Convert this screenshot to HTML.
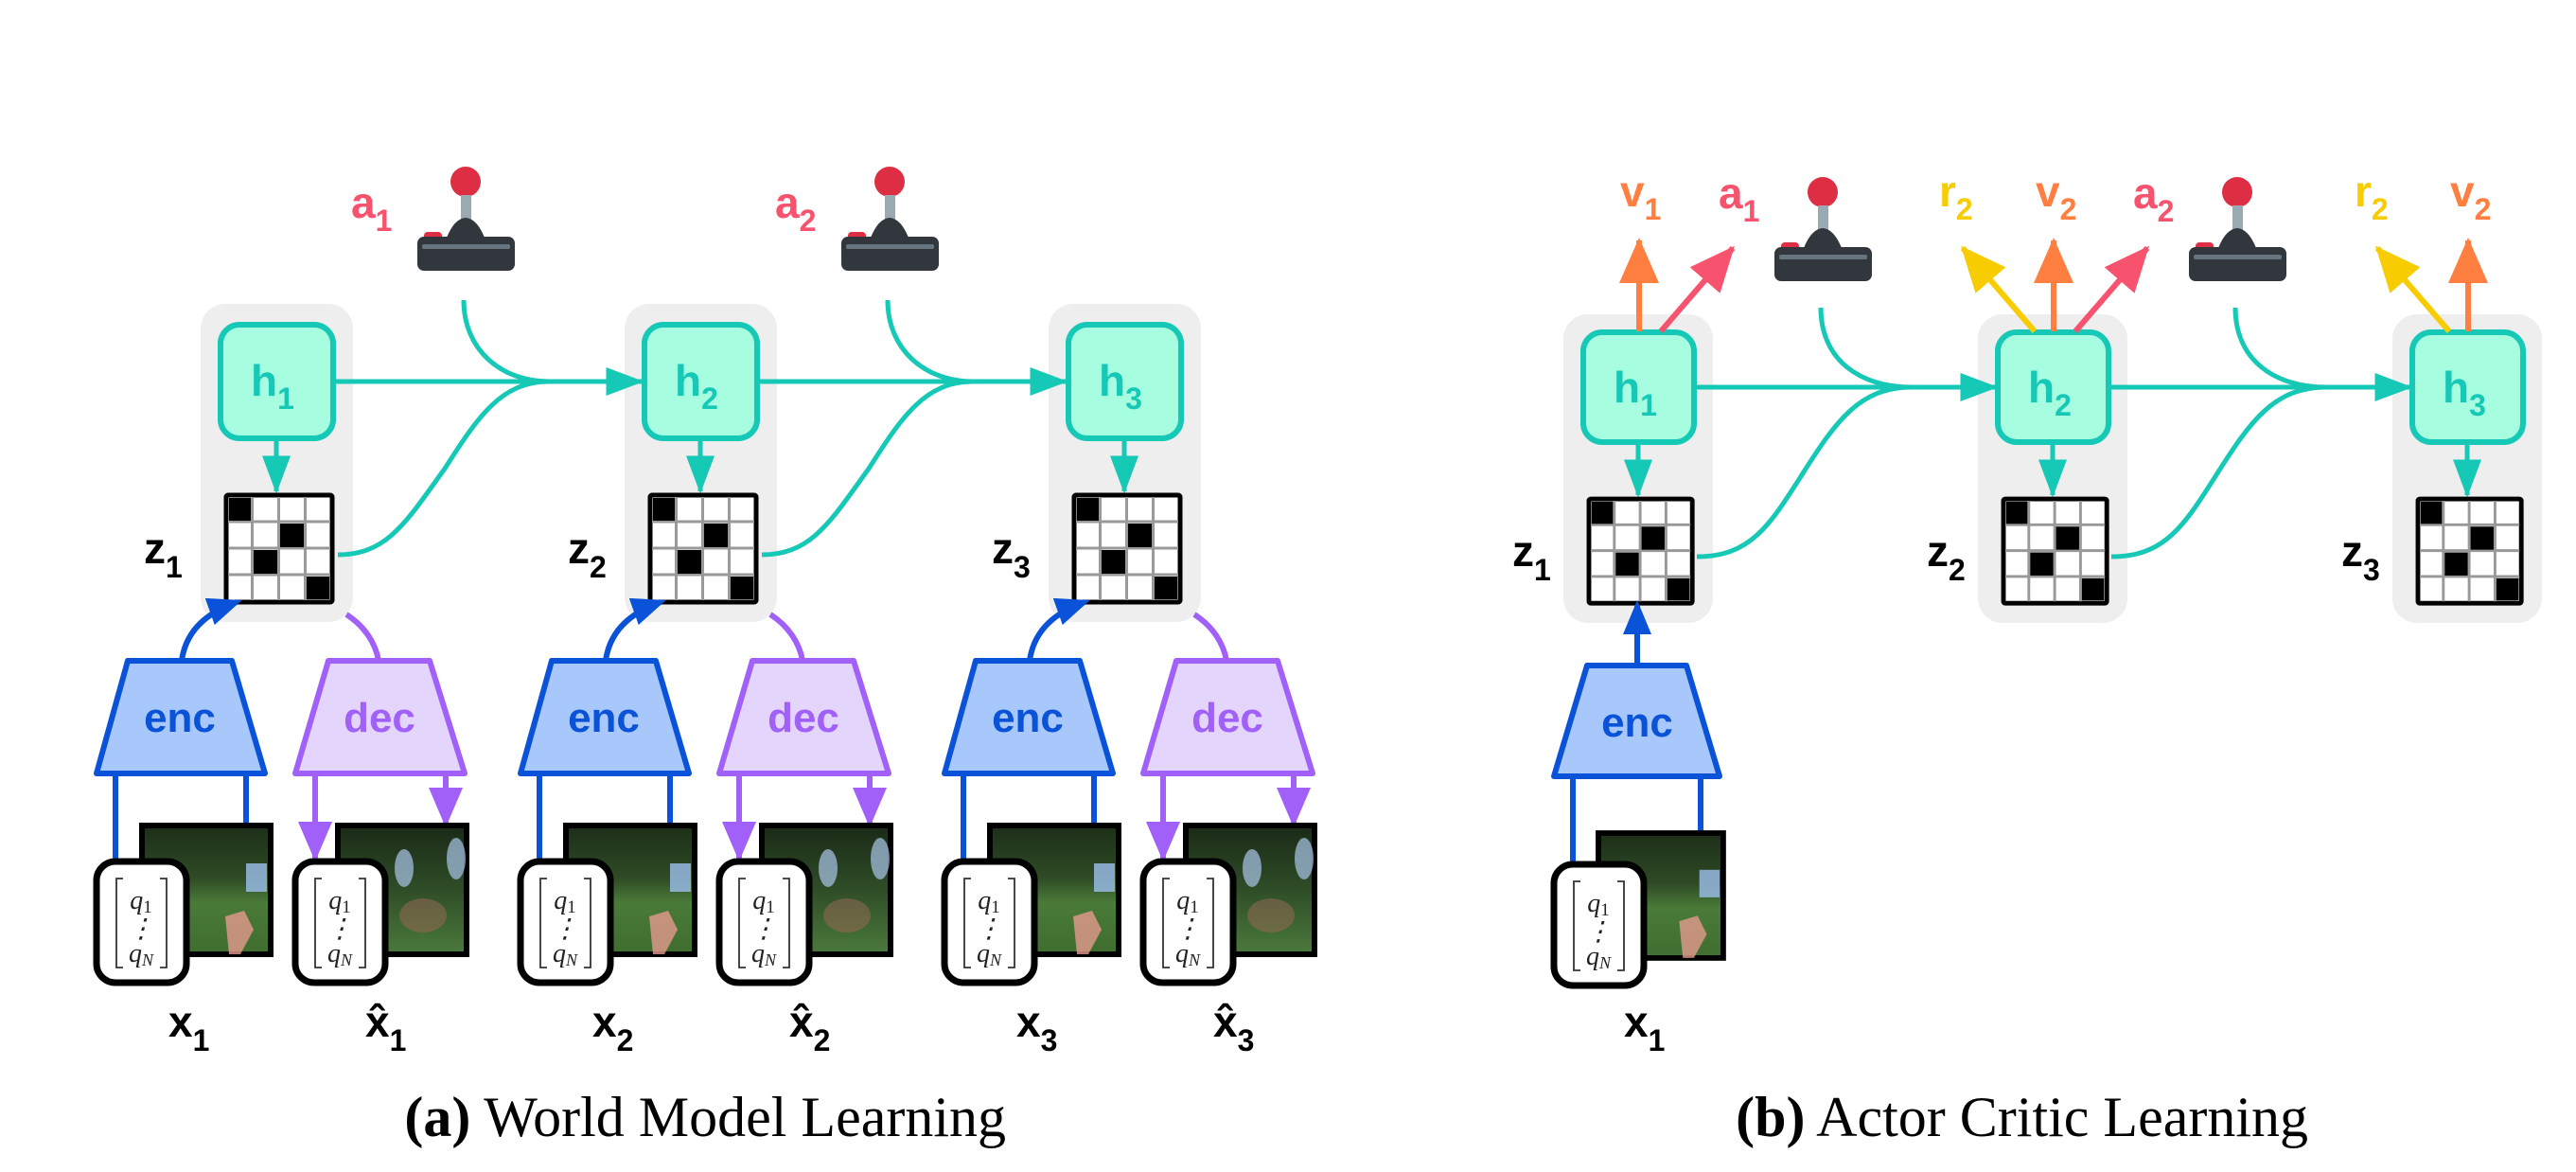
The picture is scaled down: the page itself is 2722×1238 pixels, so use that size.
<!DOCTYPE html>
<html><head><meta charset="utf-8"><style>
html,body{margin:0;padding:0;background:#fff}
svg{display:block}
.lb{font-family:"Liberation Sans",sans-serif;font-weight:bold}
.cap{font-family:"Liberation Serif",serif;font-size:60px}
.q{font-family:"Liberation Serif",serif;font-style:italic;font-size:28px;fill:#222}
</style></head><body>
<svg width="2722" height="1238" viewBox="0 0 2722 1238" xmlns="http://www.w3.org/2000/svg" xmlns:xlink="http://www.w3.org/1999/xlink">
<defs>
<marker id="mt" markerWidth="8" markerHeight="6" refX="7.5" refY="3" orient="auto" markerUnits="strokeWidth"><path d="M0,0 L8,3 L0,6 z" fill="#16c8b6"/></marker>
<marker id="mb" markerWidth="6" markerHeight="5" refX="5" refY="2.5" orient="auto" markerUnits="strokeWidth"><path d="M0,0 L6,2.5 L0,5 z" fill="#0a52d8"/></marker>
<marker id="mp" markerWidth="7" markerHeight="6" refX="6.5" refY="3" orient="auto" markerUnits="strokeWidth"><path d="M0,0 L7,3 L0,6 z" fill="#a160f8"/></marker>
<marker id="mo" markerWidth="8" markerHeight="7" refX="7.5" refY="3.5" orient="auto" markerUnits="strokeWidth"><path d="M0,0 L8,3.5 L0,7 z" fill="#ff7f41"/></marker>
<marker id="mr" markerWidth="8" markerHeight="7" refX="7.5" refY="3.5" orient="auto" markerUnits="strokeWidth"><path d="M0,0 L8,3.5 L0,7 z" fill="#f8536e"/></marker>
<marker id="my" markerWidth="8" markerHeight="7" refX="7.5" refY="3.5" orient="auto" markerUnits="strokeWidth"><path d="M0,0 L8,3.5 L0,7 z" fill="#f7cc00"/></marker>
<linearGradient id="mc" x1="0" y1="0" x2="0" y2="1"><stop offset="0" stop-color="#1c2e18"/><stop offset="0.4" stop-color="#2e4a25"/><stop offset="0.6" stop-color="#4a7a38"/><stop offset="1" stop-color="#3f6e30"/></linearGradient>
<linearGradient id="mc2" x1="0" y1="0" x2="0" y2="1"><stop offset="0" stop-color="#1a2a16"/><stop offset="0.5" stop-color="#2f4d27"/><stop offset="1" stop-color="#4b7a3c"/></linearGradient>

<g id="joy">
<circle cx="0" cy="17" r="16" fill="#dd2e44"/>
<rect x="-5" y="31" width="11" height="26" fill="#99aab5"/>
<path d="M-20,76 Q-12,56 0,55 Q12,56 20,76 z" fill="#31373d"/>
<rect x="-44" y="70" width="19" height="10" rx="4" fill="#dd2e44"/>
<rect x="-51" y="75" width="103" height="36" rx="7" fill="#31373d"/>
<rect x="-46" y="83" width="93" height="5" rx="2" fill="#66757f"/>
</g>

<g id="grid">
<rect x="0" y="0" width="112" height="113" fill="#fff" stroke="#000" stroke-width="5" rx="2"/>
<path d="M27.5,2V111M55.5,2V111M83.5,2V111M2,28H110M2,56H110M2,84H110" stroke="#999" stroke-width="3"/>
<rect x="3" y="3" width="23" height="24" fill="#000"/>
<rect x="57" y="30" width="25" height="25" fill="#000"/>
<rect x="29" y="58" width="25" height="25" fill="#000"/>
<rect x="85" y="86" width="24" height="24" fill="#000"/>
</g>

<g id="qbox">
<rect x="0" y="0" width="95" height="128" rx="20" fill="#fff" stroke="#000" stroke-width="7"/>
<path d="M28,18 h-7 v94 h7 M67,18 h7 v94 h-7" fill="none" stroke="#333" stroke-width="1.8"/>
<text x="47" y="50" text-anchor="middle" class="q">q<tspan font-size="19" font-style="normal" dy="4">1</tspan></text>
<text x="47" y="80" text-anchor="middle" class="q" font-style="normal">⋮</text>
<text x="47" y="106" text-anchor="middle" class="q">q<tspan font-size="18" dy="4">N</tspan></text>
</g>

<g id="img">
<rect x="0" y="0" width="136" height="136" fill="url(#mc)" stroke="#000" stroke-width="6"/>
<rect x="110" y="40" width="22" height="30" fill="#9cc0ee" opacity="0.8"/>
<path d="M88,96 l20,-6 l10,20 l-14,26 l-12,0 z" fill="#e59a8e" opacity="0.8"/>
</g>
<g id="img2">
<rect x="0" y="0" width="136" height="136" fill="url(#mc2)" stroke="#000" stroke-width="6"/>
<ellipse cx="70" cy="45" rx="10" ry="20" fill="#a9c6ea" opacity="0.7"/>
<ellipse cx="125" cy="35" rx="10" ry="22" fill="#a9c6ea" opacity="0.7"/>
<ellipse cx="90" cy="95" rx="25" ry="18" fill="#9c6a55" opacity="0.5"/>
</g>
</defs>

<g id="colA">
<rect x="212" y="321" width="161" height="336" rx="26" fill="#eeeeee"/>
<rect x="233" y="343" width="119" height="120" rx="20" fill="#a7fde0" stroke="#16c8b6" stroke-width="6"/>
<line x1="292" y1="463" x2="292" y2="519" stroke="#16c8b6" stroke-width="5" marker-end="url(#mt)"/>
<use href="#grid" xlink:href="#grid" x="239" y="523"/>
<path d="M192,698 C196,668 216,648 250,636" fill="none" stroke="#0a52d8" stroke-width="6" marker-end="url(#mb)"/>
<path d="M366,649 C386,662 397,680 400,698" fill="none" stroke="#a160f8" stroke-width="6"/>
<polygon points="135,698 245,698 280,817 102,817" fill="#a8c8fb" stroke="#0a52d8" stroke-width="6" stroke-linejoin="round"/>
<text x="190" y="773" text-anchor="middle" class="lb" font-size="44" fill="#0a52d8">enc</text>
<polygon points="347,698 454,698 491,817 312,817" fill="#e4d5fd" stroke="#a160f8" stroke-width="6" stroke-linejoin="round"/>
<text x="401" y="773" text-anchor="middle" class="lb" font-size="44" fill="#a160f8">dec</text>
<line x1="122" y1="817" x2="122" y2="912" stroke="#0a52d8" stroke-width="6"/>
<line x1="260" y1="817" x2="260" y2="873" stroke="#0a52d8" stroke-width="6"/>
<line x1="333" y1="817" x2="333" y2="907" stroke="#a160f8" stroke-width="6" marker-end="url(#mp)"/>
<line x1="471" y1="817" x2="471" y2="871" stroke="#a160f8" stroke-width="6" marker-end="url(#mp)"/>
<use href="#img" xlink:href="#img" x="150" y="872"/>
<use href="#qbox" xlink:href="#qbox" x="102" y="910"/>
<use href="#img2" xlink:href="#img2" x="357" y="872"/>
<use href="#qbox" xlink:href="#qbox" x="312" y="910"/>
</g>
<use href="#colA" xlink:href="#colA" x="448"/>
<use href="#colA" xlink:href="#colA" x="896"/>

<g class="lb" font-size="46" fill="#16c8b6">
<text x="265" y="418">h<tspan font-size="32" dy="14">1</tspan></text>
<text x="713" y="418">h<tspan font-size="32" dy="14">2</tspan></text>
<text x="1161" y="418">h<tspan font-size="32" dy="14">3</tspan></text>
</g>
<g class="lb" font-size="46" fill="#000">
<text x="152" y="595">z<tspan font-size="32" dy="15">1</tspan></text>
<text x="600" y="595">z<tspan font-size="32" dy="15">2</tspan></text>
<text x="1048" y="595">z<tspan font-size="32" dy="15">3</tspan></text>
<text x="178" y="1095">x<tspan font-size="32" dy="15">1</tspan></text>
<text x="386" y="1095">x̂<tspan font-size="32" dy="15">1</tspan></text>
<text x="626" y="1095">x<tspan font-size="32" dy="15">2</tspan></text>
<text x="834" y="1095">x̂<tspan font-size="32" dy="15">2</tspan></text>
<text x="1074" y="1095">x<tspan font-size="32" dy="15">3</tspan></text>
<text x="1282" y="1095">x̂<tspan font-size="32" dy="15">3</tspan></text>
</g>
<g class="lb" font-size="46" fill="#f8536e">
<text x="371" y="230">a<tspan font-size="32" dy="14">1</tspan></text>
<text x="819" y="230">a<tspan font-size="32" dy="14">2</tspan></text>
</g>

<use href="#joy" xlink:href="#joy" x="492" y="175"/>
<use href="#joy" xlink:href="#joy" x="940" y="175"/>
<g id="conA" fill="none" stroke="#16c8b6" stroke-width="5">
<line x1="352" y1="403" x2="678" y2="403" marker-end="url(#mt)"/>
<path d="M490,317 C490,370 530,403 580,403"/>
<path d="M357,586 C410,586 430,550 470,495 C505,440 530,403 580,403"/>
</g>
<use href="#conA" xlink:href="#conA" x="448"/>

<g id="colB">
<rect x="1652" y="332" width="158" height="326" rx="26" fill="#eeeeee"/>
<rect x="1673" y="351" width="117" height="116" rx="20" fill="#a7fde0" stroke="#16c8b6" stroke-width="6"/>
<line x1="1731" y1="467" x2="1731" y2="523" stroke="#16c8b6" stroke-width="5" marker-end="url(#mt)"/>
<g transform="translate(1679,527) scale(0.975)"><use href="#grid" xlink:href="#grid"/></g>
</g>
<use href="#colB" xlink:href="#colB" x="438"/>
<use href="#colB" xlink:href="#colB" x="876"/>

<g class="lb" font-size="46" fill="#16c8b6">
<text x="1705" y="425">h<tspan font-size="32" dy="14">1</tspan></text>
<text x="2143" y="425">h<tspan font-size="32" dy="14">2</tspan></text>
<text x="2581" y="425">h<tspan font-size="32" dy="14">3</tspan></text>
</g>
<g class="lb" font-size="46" fill="#000">
<text x="1598" y="598">z<tspan font-size="32" dy="15">1</tspan></text>
<text x="2036" y="598">z<tspan font-size="32" dy="15">2</tspan></text>
<text x="2474" y="598">z<tspan font-size="32" dy="15">3</tspan></text>
<text x="1716" y="1095">x<tspan font-size="32" dy="15">1</tspan></text>
</g>

<line x1="1730" y1="703" x2="1730" y2="640" stroke="#0a52d8" stroke-width="6" marker-end="url(#mb)"/>
<polygon points="1677,703 1782,703 1817,820 1642,820" fill="#a8c8fb" stroke="#0a52d8" stroke-width="6" stroke-linejoin="round"/>
<text x="1730" y="778" text-anchor="middle" class="lb" font-size="44" fill="#0a52d8">enc</text>
<line x1="1662" y1="820" x2="1662" y2="915" stroke="#0a52d8" stroke-width="6"/>
<line x1="1797" y1="820" x2="1797" y2="881" stroke="#0a52d8" stroke-width="6"/>
<g transform="translate(1689,880) scale(0.97)"><use href="#img" xlink:href="#img"/></g>
<use href="#qbox" xlink:href="#qbox" x="1642" y="913"/>

<use href="#joy" xlink:href="#joy" x="1926" y="186"/>
<use href="#joy" xlink:href="#joy" x="2364" y="186"/>
<g id="conB" fill="none" stroke="#16c8b6" stroke-width="5">
<line x1="1790" y1="409" x2="2109" y2="409" marker-end="url(#mt)"/>
<path d="M1924,325 C1924,380 1965,409 2020,409"/>
<path d="M1793,588 C1850,588 1870,555 1905,500 C1940,445 1965,409 2020,409"/>
</g>
<use href="#conB" xlink:href="#conB" x="438"/>

<g stroke-width="6" fill="none">
<line x1="1732" y1="350" x2="1732" y2="254" stroke="#ff7f41" marker-end="url(#mo)"/>
<line x1="1755" y1="350" x2="1831" y2="262" stroke="#f8536e" marker-end="url(#mr)"/>
<line x1="2150" y1="350" x2="2074" y2="262" stroke="#f7cc00" marker-end="url(#my)"/>
<line x1="2170" y1="350" x2="2170" y2="254" stroke="#ff7f41" marker-end="url(#mo)"/>
<line x1="2193" y1="350" x2="2269" y2="262" stroke="#f8536e" marker-end="url(#mr)"/>
<line x1="2588" y1="350" x2="2512" y2="262" stroke="#f7cc00" marker-end="url(#my)"/>
<line x1="2608" y1="350" x2="2608" y2="254" stroke="#ff7f41" marker-end="url(#mo)"/>
</g>
<g class="lb" font-size="46">
<text x="1712" y="218" fill="#ff7f41">v<tspan font-size="32" dy="14">1</tspan></text>
<text x="1816" y="220" fill="#f8536e">a<tspan font-size="32" dy="14">1</tspan></text>
<text x="2049" y="218" fill="#f7cc00">r<tspan font-size="32" dy="14">2</tspan></text>
<text x="2151" y="218" fill="#ff7f41">v<tspan font-size="32" dy="14">2</tspan></text>
<text x="2254" y="220" fill="#f8536e">a<tspan font-size="32" dy="14">2</tspan></text>
<text x="2488" y="218" fill="#f7cc00">r<tspan font-size="32" dy="14">2</tspan></text>
<text x="2589" y="218" fill="#ff7f41">v<tspan font-size="32" dy="14">2</tspan></text>
</g>

<text x="1063" y="1200" text-anchor="end" class="cap"><tspan font-weight="bold">(a)</tspan> World Model Learning</text>
<text x="2439" y="1200" text-anchor="end" class="cap" font-size="61"><tspan font-weight="bold">(b)</tspan> Actor Critic Learning</text>
</svg>
</body></html>
